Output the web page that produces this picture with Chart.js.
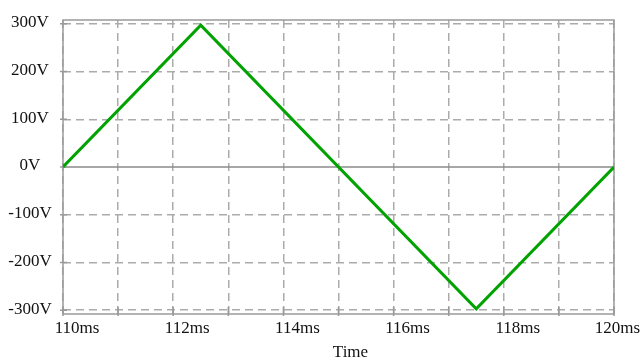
<!DOCTYPE html>
<html>
<head>
<meta charset="utf-8">
<script src="https://cdn.jsdelivr.net/npm/chart.js@4"></script>
<style>
  html, body { margin: 0; padding: 0; background: #fff; }
  #wrap { width: 642px; height: 358px; position: relative; }
</style>
</head>
<body>
<div id="wrap"><canvas id="waveChart"></canvas></div>
<script>
// waveform samples (corners of the triangle wave)
const timeMs = [110, 112.5, 117.5, 120];
const voltage = [0, 297, -297, 0];

// axes
const xGridMs = [110, 111, 112, 113, 114, 115, 116, 117, 118, 119, 120];
const xLabelMs = [110, 112, 114, 116, 118, 120];
const yTicksV = [-300, -200, -100, 0, 100, 200, 300];
const xTitle = 'Time';

const labelFont = '17px "Liberation Serif", "Times New Roman", serif';
const gridGrey = '#ababab';
const axisGrey = '#9a9a9a';

// frame, zero line, small tick marks and the tick labels
const framePlugin = {
    id: 'frame',
    beforeDatasetsDraw(chart) {
        const ctx = chart.ctx;
        const a = chart.chartArea;
        const xs = chart.scales.x;
        const ys = chart.scales.y;
        ctx.save();
        ctx.strokeStyle = '#8a8a8a';
        ctx.lineWidth = 1.5;
        const y0 = ys.getPixelForValue(0);
        ctx.beginPath();
        ctx.moveTo(a.left, y0);
        ctx.lineTo(a.right, y0);
        ctx.stroke();

        ctx.strokeStyle = axisGrey;
        ctx.strokeRect(a.left, a.top, a.right - a.left, a.bottom - a.top);

        ctx.beginPath();
        xGridMs.forEach(v => {
            const px = xs.getPixelForValue(v);
            ctx.moveTo(px, a.bottom - 7);
            ctx.lineTo(px, a.bottom + 2);
        });
        yTicksV.forEach(v => {
            const py = ys.getPixelForValue(v);
            ctx.moveTo(a.left - 3, py);
            ctx.lineTo(a.left + 4, py);
        });
        ctx.stroke();
        ctx.restore();
    },
    afterDraw(chart) {
        const ctx = chart.ctx;
        const a = chart.chartArea;
        const xs = chart.scales.x;
        const ys = chart.scales.y;
        ctx.save();
        ctx.font = labelFont;
        ctx.fillStyle = '#111';
        ctx.textAlign = 'center';
        ctx.textBaseline = 'middle';
        yTicksV.forEach(v => {
            const py = Math.max(ys.getPixelForValue(v) - 1, a.top);
            ctx.fillText(v + 'V', 30, py);
        });
        ctx.textBaseline = 'alphabetic';
        xLabelMs.forEach(v => {
            const text = v + 'ms';
            const w = ctx.measureText(text).width;
            let cx = xs.getPixelForValue(v) + 14;
            cx = Math.min(cx, chart.width - 2 - w / 2);
            ctx.fillText(text, cx, 333);
        });
        ctx.fillText(xTitle, (a.left + a.right) / 2 + 12, 357);
        ctx.restore();
    }
};

const ctx = document.getElementById('waveChart').getContext('2d');
const waveChart = new Chart(ctx, {
    type: 'line',
    data: {
        datasets: [{
            label: 'V',
            data: timeMs.map((t, i) => ({ x: t, y: voltage[i] })),
            borderColor: '#00a300',
            borderWidth: 3,
            pointRadius: 0,
            tension: 0,
            fill: false
        }]
    },
    options: {
        responsive: true,
        maintainAspectRatio: false,
        animation: false,
        layout: { padding: { left: 63, right: 28, top: 20, bottom: 44 } },
        plugins: {
            legend: { display: false },
            tooltip: { enabled: false }
        },
        scales: {
            x: {
                type: 'linear',
                min: 110,
                max: 120,
                afterBuildTicks: s => { s.ticks = xGridMs.map(v => ({ value: v })); },
                ticks: { display: false },
                grid: { color: gridGrey, lineWidth: 1.5, drawTicks: false },
                border: { display: false, dash: [8, 5] }
            },
            y: {
                min: -308,
                max: 308,
                afterBuildTicks: s => { s.ticks = yTicksV.map(v => ({ value: v })); },
                ticks: { display: false },
                grid: {
                    color: c => (c.tick && c.tick.value === 0 ? 'rgba(0,0,0,0)' : gridGrey),
                    lineWidth: 1.5,
                    drawTicks: false
                },
                border: { display: false, dash: [8, 5] }
            }
        }
    },
    plugins: [framePlugin]
});
</script>
</body>
</html>
